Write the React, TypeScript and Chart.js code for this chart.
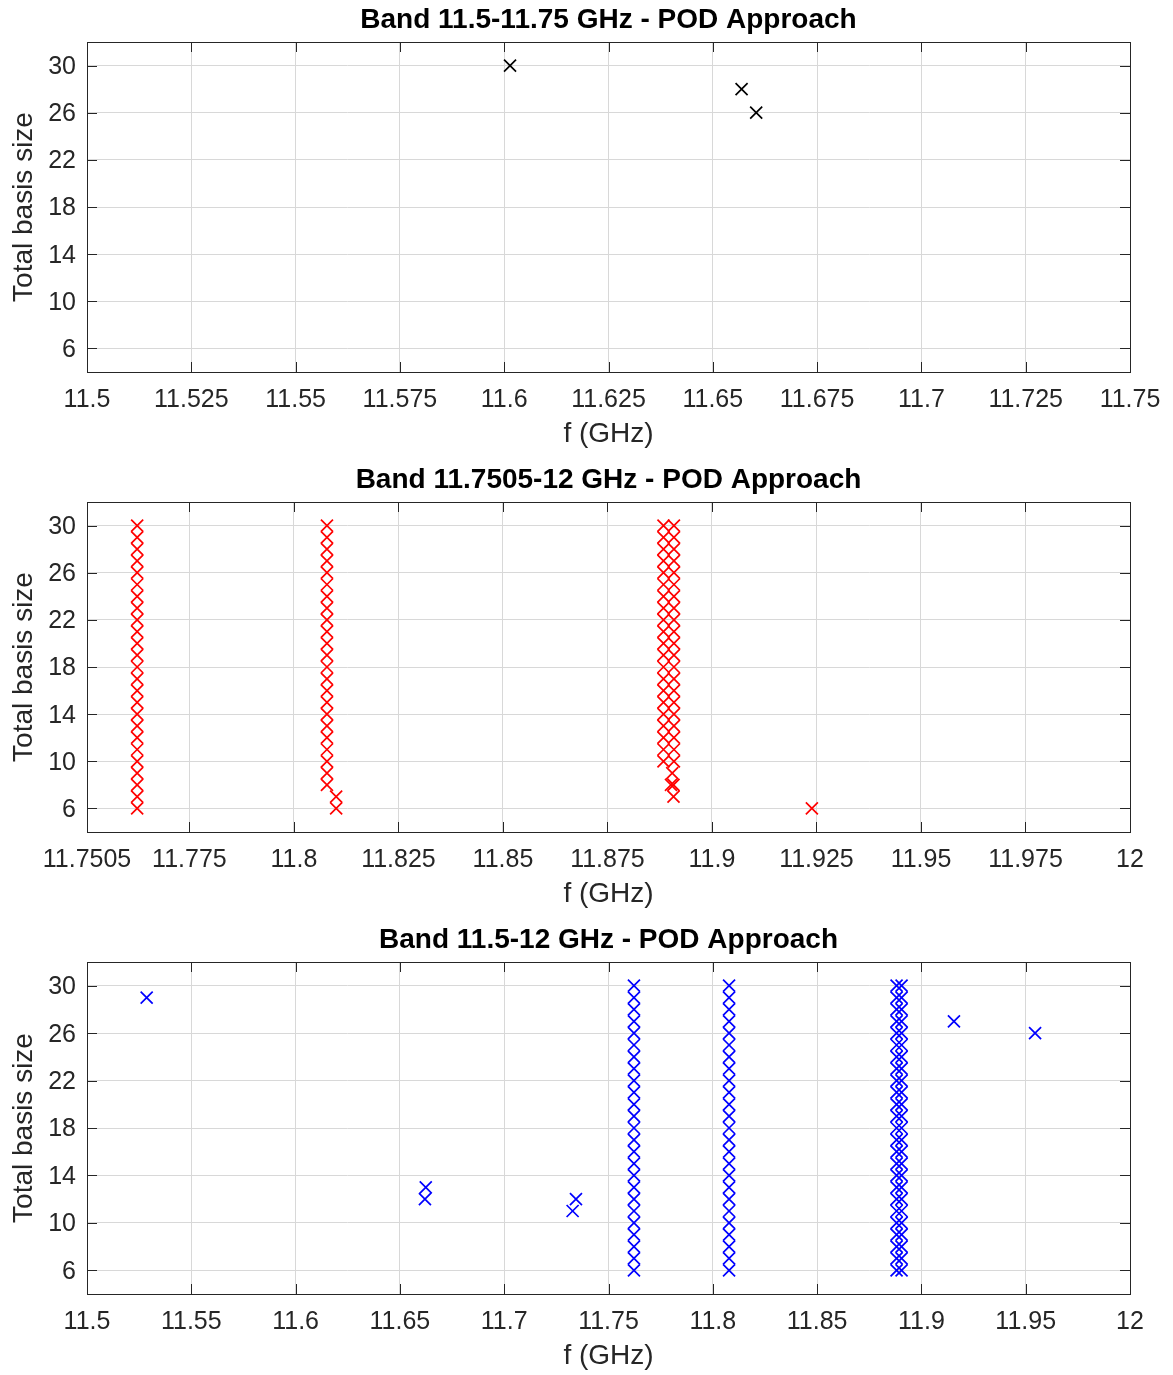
import React, { useEffect, useRef } from "react";
import { Chart, registerables } from "chart.js";

Chart.register(...registerables);

// ---------- Tick labels ----------
const yTickValues = [6, 10, 14, 18, 22, 26, 30];
const band1XTicks = [11.5, 11.525, 11.55, 11.575, 11.6, 11.625, 11.65, 11.675, 11.7, 11.725, 11.75];
const band2XTicks = [11.7505, 11.775, 11.8, 11.825, 11.85, 11.875, 11.9, 11.925, 11.95, 11.975, 12];
const band3XTicks = [11.5, 11.55, 11.6, 11.65, 11.7, 11.75, 11.8, 11.85, 11.9, 11.95, 12];

// ---------- Band 11.5-11.75 GHz ----------
const band1Freq = [11.6014, 11.6569, 11.6604];
const band1Size = [30, 28, 26];

// ---------- Band 11.7505-12 GHz ----------
const band2ColumnFreq = [11.7625, 11.8079, 11.8884, 11.8909];
const band2ColumnSizes = [
  [30, 29, 28, 27, 26, 25, 24, 23, 22, 21, 20, 19, 18, 17, 16, 15, 14, 13, 12, 11, 10, 9, 8, 7, 6],
  [30, 29, 28, 27, 26, 25, 24, 23, 22, 21, 20, 19, 18, 17, 16, 15, 14, 13, 12, 11, 10, 9, 8],
  [30, 29, 28, 27, 26, 25, 24, 23, 22, 21, 20, 19, 18, 17, 16, 15, 14, 13, 12, 11, 10],
  [30, 29, 28, 27, 26, 25, 24, 23, 22, 21, 20, 19, 18, 17, 16, 15, 14, 13, 12, 11, 10],
];
const band2OtherFreq = [11.8101, 11.8101, 11.8905, 11.8902, 11.8908, 11.8908, 11.9239];
const band2OtherSize = [7, 6, 9, 8, 8, 7, 6];

// ---------- Band 11.5-12 GHz ----------
const band3ColumnFreq = [11.7622, 11.8078, 11.8881, 11.8905];
const band3ColumnSizes = [
  [30, 29, 28, 27, 26, 25, 24, 23, 22, 21, 20, 19, 18, 17, 16, 15, 14, 13, 12, 11, 10, 9, 8, 7, 6],
  [30, 29, 28, 27, 26, 25, 24, 23, 22, 21, 20, 19, 18, 17, 16, 15, 14, 13, 12, 11, 10, 9, 8, 7, 6],
  [30, 29, 28, 27, 26, 25, 24, 23, 22, 21, 20, 19, 18, 17, 16, 15, 14, 13, 12, 11, 10, 9, 8, 7, 6],
  [30, 29, 28, 27, 26, 25, 24, 23, 22, 21, 20, 19, 18, 17, 16, 15, 14, 13, 12, 11, 10, 9, 8, 7, 6],
];
const band3OtherFreq = [11.5286, 11.6624, 11.662, 11.7344, 11.7328, 11.9156, 11.9545];
const band3OtherSize = [29, 13, 12, 12, 11, 27, 26];

const FONT = "'Liberation Sans', Arial, Helvetica, sans-serif";
const AXIS_COLOR = "#262626";
const GRID_COLOR = "#d8d8d8";

type Pt = { x: number; y: number };

function pairs(fs: number[], ss: number[]): Pt[] {
  return fs.map((f, i) => ({ x: f, y: ss[i] }));
}
function columns(fs: number[], groups: number[][]): Pt[] {
  const out: Pt[] = [];
  fs.forEach((f, i) => groups[i].forEach((s) => out.push({ x: f, y: s })));
  return out;
}

const frameAndTicks = {
  id: "frameAndTicks",
  afterDraw(chart: any) {
    const { ctx, chartArea: a, scales } = chart;
    const r = (v: number) => Math.round(v) + 0.5;
    ctx.save();
    ctx.strokeStyle = AXIS_COLOR;
    ctx.lineWidth = 1;
    ctx.beginPath();
    const L = 10;
    for (const t of scales.x.ticks) {
      const px = r(scales.x.getPixelForValue(t.value));
      ctx.moveTo(px, a.bottom);
      ctx.lineTo(px, a.bottom - L);
      ctx.moveTo(px, a.top);
      ctx.lineTo(px, a.top + L);
    }
    for (const t of scales.y.ticks) {
      const py = r(scales.y.getPixelForValue(t.value));
      ctx.moveTo(a.left, py);
      ctx.lineTo(a.left + L, py);
      ctx.moveTo(a.right, py);
      ctx.lineTo(a.right - L, py);
    }
    ctx.stroke();
    ctx.strokeRect(r(a.left), r(a.top), Math.round(a.right - a.left), Math.round(a.bottom - a.top));
    ctx.restore();
  },
};

type PanelProps = {
  title: string;
  xMin: number;
  xMax: number;
  xTicks: number[];
  color: string;
  points: Pt[];
  top: number;
  height: number;
  plotBottom: number;
  xTitleCenter: number;
};

function Panel(p: PanelProps) {
  const ref = useRef<HTMLCanvasElement | null>(null);
  useEffect(() => {
    if (!ref.current) return;
    const xAxisH = p.height - p.plotBottom;
    const xTitleOffset = p.height - p.xTitleCenter - 16.8;
    const chart = new Chart(ref.current, {
      type: "scatter",
      data: {
        datasets: [
          {
            data: p.points,
            pointStyle: "crossRot",
            pointRadius: 8.5,
            pointHoverRadius: 8.5,
            borderColor: p.color,
            backgroundColor: p.color,
            pointBorderWidth: 1.7,
            showLine: false,
          },
        ],
      },
      options: {
        responsive: false,
        animation: false,
        devicePixelRatio: 1,
        events: [],
        layout: { padding: { left: 0, right: 1173 - 1130, top: 0, bottom: 0 } },
        plugins: {
          legend: { display: false },
          tooltip: { enabled: false },
          title: {
            display: true,
            text: p.title,
            fullSize: false,
            color: "#000",
            font: { family: FONT, size: 28, weight: "bold", lineHeight: 1.2 },
            padding: { top: 3, bottom: 5.4 },
          },
        },
        scales: {
          x: {
            type: "linear",
            min: p.xMin,
            max: p.xMax,
            afterBuildTicks: (s: any) => {
              s.ticks = p.xTicks.map((v) => ({ value: v }));
            },
            afterFit: (s: any) => {
              s.height = xAxisH;
              s.paddingLeft = 0;
              s.paddingRight = 0;
            },
            grid: { color: GRID_COLOR, lineWidth: 1, drawTicks: false },
            border: { display: false },
            ticks: {
              autoSkip: false,
              maxRotation: 0,
              minRotation: 0,
              padding: 13,
              color: AXIS_COLOR,
              font: { family: FONT, size: 25, lineHeight: 1.2 },
              callback: (v: any) => String(Number(v)),
            },
            title: {
              display: true,
              text: "f (GHz)",
              color: AXIS_COLOR,
              font: { family: FONT, size: 28, lineHeight: 1.2 },
              padding: { top: xTitleOffset, bottom: xTitleOffset },
            },
          },
          y: {
            type: "linear",
            min: 4,
            max: 32,
            afterBuildTicks: (s: any) => {
              s.ticks = yTickValues.map((v) => ({ value: v }));
            },
            afterFit: (s: any) => {
              s.width = 87;
              s.paddingTop = 0;
              s.paddingBottom = 0;
            },
            grid: { color: GRID_COLOR, lineWidth: 1, drawTicks: false },
            border: { display: false },
            ticks: {
              padding: 11,
              labelOffset: 1.5,
              color: AXIS_COLOR,
              font: { family: FONT, size: 25, lineHeight: 1.2 },
              callback: (v: any) => String(v),
            },
            title: {
              display: true,
              text: "Total basis size",
              color: AXIS_COLOR,
              font: { family: FONT, size: 28, lineHeight: 1.2 },
              padding: { top: 7.2, bottom: 7.2 },
            },
          },
        },
      } as any,
      plugins: [frameAndTicks],
    });
    return () => chart.destroy();
  }, []);
  return (
    <canvas
      ref={ref}
      width={1173}
      height={p.height}
      style={{ position: "absolute", left: 0, top: p.top, width: 1173, height: p.height }}
    />
  );
}

export default function App() {
  const band1Points = pairs(band1Freq, band1Size);
  const band2Points = [
    ...columns(band2ColumnFreq, band2ColumnSizes),
    ...pairs(band2OtherFreq, band2OtherSize),
  ];
  const band3Points = [
    ...columns(band3ColumnFreq, band3ColumnSizes),
    ...pairs(band3OtherFreq, band3OtherSize),
  ];
  return (
    <div
      style={{
        position: "absolute",
        left: 0,
        top: 0,
        width: 1173,
        height: 1375,
        background: "#fff",
        overflow: "hidden",
      }}
    >
      <Panel
        title="Band 11.5-11.75 GHz - POD Approach"
        xMin={11.5}
        xMax={11.75}
        xTicks={band1XTicks}
        color="#000000"
        points={band1Points}
        top={0}
        height={460}
        plotBottom={372}
        xTitleCenter={434}
      />
      <Panel
        title="Band 11.7505-12 GHz - POD Approach"
        xMin={11.7505}
        xMax={12}
        xTicks={band2XTicks}
        color="#ff0000"
        points={band2Points}
        top={460}
        height={460}
        plotBottom={372}
        xTitleCenter={434}
      />
      <Panel
        title="Band 11.5-12 GHz - POD Approach"
        xMin={11.5}
        xMax={12}
        xTicks={band3XTicks}
        color="#0000ff"
        points={band3Points}
        top={920}
        height={455}
        plotBottom={374}
        xTitleCenter={436}
      />
    </div>
  );
}
